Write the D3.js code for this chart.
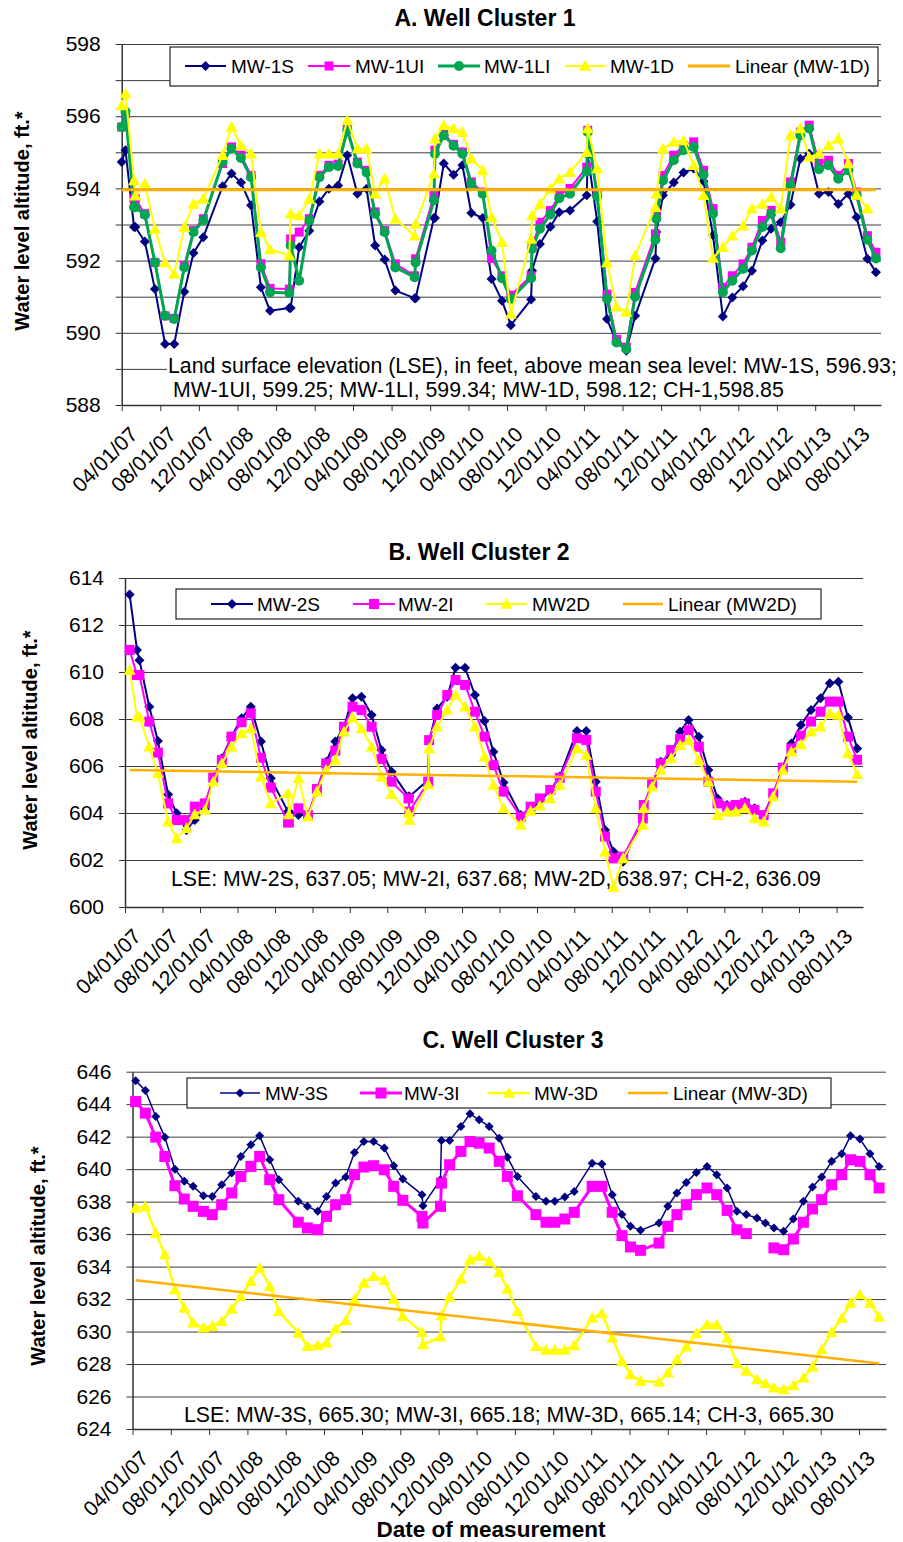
<!DOCTYPE html>
<html>
<head>
<meta charset="utf-8">
<script src="https://cdn.jsdelivr.net/npm/d3@7"></script>
<style>
  body { margin: 0; background: #fff; }
  text { font-family: "Liberation Sans", Arial, sans-serif; }
</style>
</head>
<body>
<svg id="chart" width="903" height="1542"></svg>
<script>
// ---- tick labels (shared by all three panels) ----
const tickLabels = ["04/01/07","08/01/07","12/01/07","04/01/08","08/01/08","12/01/08","04/01/09","08/01/09",
  "12/01/09","04/01/10","08/01/10","12/01/10","04/01/11","08/01/11","12/01/11","04/01/12","08/01/12",
  "12/01/12","04/01/13","08/01/13"];
const axisStart = "2007-04-01";
const axisEnd = "2013-10-26";

// ---- A. Well Cluster 1 ----
const datesA = [
  "2007-04-01","2007-04-13","2007-05-10","2007-05-14","2007-06-13","2007-07-15","2007-08-16","2007-09-14","2007-10-16","2007-11-14","2007-12-15",
  "2008-02-14","2008-03-13","2008-04-12","2008-05-14","2008-06-14","2008-07-13","2008-09-12","2008-09-16","2008-10-13","2008-11-14","2008-12-16",
  "2009-01-15","2009-02-13","2009-03-14","2009-04-15","2009-05-14","2009-06-10","2009-07-10","2009-08-13","2009-10-13","2009-10-16","2009-12-13","2009-12-16",
  "2010-01-13","2010-02-13","2010-03-13","2010-04-10","2010-05-16","2010-06-13","2010-07-16","2010-08-13","2010-10-16","2010-10-19","2010-11-13","2010-12-16",
  "2011-01-13","2011-02-16","2011-04-10","2011-04-13","2011-05-13","2011-06-13","2011-07-13","2011-08-13","2011-09-10","2011-11-13","2011-11-16","2011-12-07",
  "2012-01-10","2012-02-10","2012-03-13","2012-04-13","2012-05-13","2012-06-13","2012-07-13","2012-08-16","2012-09-13","2012-10-16","2012-11-13","2012-12-13",
  "2013-01-13","2013-02-13","2013-03-13","2013-04-13","2013-05-13","2013-06-13","2013-07-15","2013-08-10","2013-09-13","2013-10-10"];
const mw1s = [
  594.73,595.06,592.93,592.93,592.53,591.21,589.69,589.69,591.14,592.21,592.65,
  594.06,594.41,594.16,593.53,591.26,590.61,590.69,590.69,592.37,592.83,593.64,
  593.99,594.08,594.92,593.85,593.99,592.42,592.03,591.17,590.96,590.96,593.18,593.18,
  594.69,594.38,594.64,593.32,593.18,591.49,590.89,590.21,590.92,591.72,592.46,592.94,
  593.34,593.39,593.81,594.93,593.08,590.38,589.75,589.5,590.47,592.06,592.79,593.81,
  594.16,594.44,594.55,594.2,592.7,590.45,590.98,591.29,591.72,592.56,592.88,593.06,
  593.55,594.82,594.96,593.85,593.9,593.57,593.85,593.2,592.05,591.68];
const mw1ui = [
  595.7,596.07,593.71,593.71,593.3,591.95,590.47,590.4,591.86,592.83,593.16,
  594.69,595.15,594.92,594.36,591.91,591.23,591.21,592.6,592.79,593.16,594.36,
  594.64,594.67,595.66,594.73,594.5,593.35,592.83,591.91,591.58,592.05,593.81,595.06,
  595.52,595.22,595.01,594.18,593.9,592.06,591.58,591.04,591.58,592.37,593.06,593.39,
  593.81,594.0,594.59,595.61,593.85,591.07,589.82,589.6,591.12,592.74,593.3,594.36,
  594.92,595.19,595.29,594.5,593.44,591.26,591.58,591.91,592.37,593.11,593.39,592.51,
  594.18,595.56,595.75,594.69,594.78,594.36,594.69,593.9,592.69,592.23];
const mw1li = [
  595.7,596.12,593.48,593.48,593.27,591.95,590.47,590.38,591.81,592.79,593.11,
  594.73,595.1,594.84,594.31,591.81,591.12,591.1,592.42,591.44,593.11,594.31,
  594.59,594.62,595.61,594.69,594.44,593.3,592.79,591.81,591.54,591.95,593.67,594.96,
  595.47,595.18,594.96,594.13,593.85,592.28,591.51,590.94,591.51,592.32,592.88,593.28,
  593.73,593.85,594.47,595.56,593.78,590.94,589.73,589.55,591.0,592.58,593.16,594.22,
  594.78,595.06,595.15,594.38,593.3,591.12,591.44,591.77,592.28,592.93,593.3,592.34,
  594.08,595.47,595.66,594.53,594.64,594.27,594.5,593.81,592.58,592.06];
const mw1d = [
  596.3,596.63,594.22,593.8,594.13,592.88,591.95,591.63,592.93,593.57,593.71,
  594.92,595.7,595.19,594.96,592.79,592.31,592.14,593.3,593.25,593.71,594.96,
  594.96,594.96,595.89,595.1,595.1,593.85,594.27,593.16,592.69,593.02,594.41,595.38,
  595.75,595.66,595.56,594.82,594.5,593.2,592.51,590.52,592.6,593.25,593.57,593.99,
  594.27,594.45,595.0,595.66,594.55,591.95,590.72,590.58,592.14,593.48,593.85,595.1,
  595.29,595.33,594.64,593.81,592.07,592.37,592.69,592.97,593.44,593.57,593.76,593.44,
  595.47,595.66,594.87,594.96,595.19,595.38,594.69,593.82,593.44,null];
const trendA = [593.96, 593.96];
const lseA = ["Land surface elevation (LSE), in feet, above mean sea level: MW-1S, 596.93;",
  "MW-1UI, 599.25; MW-1LI, 599.34; MW-1D, 598.12; CH-1,598.85"];

// ---- B. Well Cluster 2 ----
const datesB = [
  "2007-04-16","2007-05-10","2007-05-18","2007-06-19","2007-07-17","2007-08-19","2007-09-16","2007-10-18","2007-11-14","2007-12-17",
  "2008-01-13","2008-02-10","2008-03-12","2008-04-14","2008-05-14","2008-06-16","2008-07-18","2008-09-12","2008-09-15","2008-10-16","2008-11-16","2008-12-15",
  "2009-01-14","2009-02-13","2009-03-13","2009-04-10","2009-05-09","2009-06-11","2009-07-13","2009-08-15","2009-10-09","2009-10-12","2009-12-12","2009-12-15",
  "2010-01-10","2010-02-12","2010-03-11","2010-04-11","2010-05-13","2010-06-13","2010-07-12","2010-08-14","2010-10-09","2010-11-10","2010-12-10",
  "2011-01-13","2011-02-13","2011-04-10","2011-05-10","2011-06-10","2011-07-10","2011-08-07","2011-09-07","2011-11-10","2011-11-13","2011-12-10",
  "2012-01-07","2012-02-10","2012-03-10","2012-04-07","2012-05-10","2012-06-10","2012-07-10","2012-08-10","2012-09-07","2012-10-07","2012-11-07","2012-12-07",
  "2013-01-07","2013-02-07","2013-03-07","2013-04-07","2013-05-10","2013-06-10","2013-07-10","2013-08-07","2013-09-07","2013-10-07"];
const mw2s = [
  613.3,610.94,610.5,608.52,607.06,604.79,603.99,603.28,603.7,604.17,
  605.5,606.33,607.25,608.03,608.52,607.04,605.48,604.06,604.06,603.91,603.91,604.91,
  606.18,607.04,607.67,608.88,608.95,608.17,606.68,605.76,604.7,604.7,605.4,607.04,
  608.45,608.95,610.18,610.18,609.02,607.91,606.61,605.3,603.91,604.13,604.48,
  604.98,605.55,607.49,607.49,605.33,603.28,602.35,601.93,603.77,604.34,605.19,
  606.18,606.47,607.46,607.96,607.25,605.83,604.62,604.34,604.34,604.48,604.2,603.91,
  604.79,605.93,606.96,607.74,608.38,608.88,609.52,609.59,608.06,606.75];
const mw2i = [
  610.94,609.87,609.87,607.89,606.57,604.41,603.7,603.7,604.27,604.41,
  605.5,606.26,607.25,607.86,608.24,606.35,605.08,603.6,603.6,604.2,603.91,605.02,
  606.11,606.65,607.67,608.52,608.38,607.67,606.3,605.33,604.62,604.06,605.33,607.1,
  608.17,609.02,609.66,609.45,608.31,607.25,606.04,604.91,603.84,604.27,604.62,
  604.98,605.5,607.18,607.11,604.91,603.0,602.07,602.14,603.77,604.34,605.26,
  606.11,606.68,607.15,607.53,606.82,605.33,604.41,604.27,604.34,604.41,604.13,603.91,
  604.84,605.93,606.75,607.29,607.89,608.31,608.74,608.74,607.25,606.26];
const mw2d = [
  610.09,608.1,608.1,606.82,605.69,603.63,602.92,603.35,603.94,604.13,
  605.33,606.11,606.82,607.39,607.6,605.55,604.41,604.84,603.94,605.48,603.84,604.91,
  605.83,606.26,607.46,608.06,607.6,606.82,605.55,604.8,603.99,603.7,605.22,606.75,
  607.67,608.38,609.02,608.52,607.67,606.4,605.19,604.2,603.49,604.09,604.31,
  604.62,605.19,606.75,606.47,604.2,602.35,600.85,602.07,603.49,604.2,605.12,
  605.83,606.33,606.89,607.1,606.26,605.33,603.91,604.06,604.06,604.2,603.77,603.63,
  604.7,605.83,606.61,606.92,607.46,607.67,608.24,608.17,606.54,605.65];
const trendB = [605.83, 605.33];
const lseB = ["LSE: MW-2S, 637.05; MW-2I, 637.68; MW-2D, 638.97; CH-2, 636.09"];

// ---- C. Well Cluster 3 ----
const datesC = [
  "2007-04-11","2007-05-12","2007-06-14","2007-07-13","2007-08-14","2007-09-13","2007-10-11","2007-11-13","2007-12-11",
  "2008-01-10","2008-02-11","2008-03-11","2008-04-12","2008-05-10","2008-06-11","2008-07-10","2008-09-10","2008-10-09","2008-11-11","2008-12-09",
  "2009-01-07","2009-02-08","2009-03-08","2009-04-07","2009-05-08","2009-06-11","2009-07-11","2009-08-09","2009-10-09","2009-10-12","2009-12-07","2009-12-10",
  "2010-01-05","2010-02-10","2010-03-11","2010-04-09","2010-05-11","2010-06-12","2010-07-08","2010-08-09","2010-10-07","2010-11-08","2010-12-06",
  "2011-01-07","2011-02-06","2011-04-04","2011-05-05","2011-06-07","2011-07-08","2011-08-04","2011-09-05","2011-11-03","2011-12-01","2011-12-30",
  "2012-01-29","2012-03-01","2012-04-04","2012-05-05","2012-06-07","2012-07-08","2012-08-07","2012-09-10","2012-10-07","2012-11-03","2012-12-04",
  "2013-01-04","2013-02-05","2013-03-06","2013-04-04","2013-05-06","2013-06-07","2013-07-05","2013-08-04","2013-09-05","2013-10-04"];
const mw3s = [
  645.45,644.84,643.24,641.97,640.0,639.25,638.94,638.36,638.32,
  639.04,639.76,640.78,641.5,642.05,640.58,639.35,638.02,637.71,637.4,638.32,
  639.14,639.51,641.03,641.7,641.7,641.3,640.21,639.39,638.43,637.75,639.35,641.77,
  641.77,642.63,643.41,643.04,642.63,641.91,640.74,639.55,638.32,638.02,638.02,
  638.28,638.63,640.37,640.31,638.43,637.2,636.48,636.23,636.68,637.71,638.53,
  639.18,639.8,640.17,639.66,638.84,637.4,637.2,636.99,636.68,636.38,636.17,
  636.93,638.02,638.9,639.51,640.48,640.95,642.05,641.85,640.95,640.17];
const mw3i = [
  644.16,643.45,641.97,640.78,638.98,638.16,637.71,637.4,637.2,
  637.81,638.53,639.55,640.17,640.78,639.35,638.12,636.73,636.38,636.27,637.09,
  637.81,638.12,639.66,640.13,640.21,639.96,638.94,638.08,637.09,636.68,637.71,639.14,
  640.27,641.09,641.7,641.6,641.3,640.48,639.55,638.36,637.2,636.73,636.73,
  636.93,637.34,638.94,638.94,637.34,635.91,635.21,635.0,635.45,636.48,637.2,
  637.81,638.43,638.84,638.43,637.46,636.27,636.03,null,null,635.15,635.04,
  635.7,636.73,637.55,638.12,639.04,639.66,640.58,640.48,639.66,638.84];
const mw3d = [
  637.61,637.71,636.07,634.74,632.59,631.46,630.54,630.23,630.33,
  630.64,631.4,632.18,633.1,633.92,632.79,631.25,629.92,629.1,629.14,629.31,
  630.17,630.68,631.97,633.0,633.41,633.16,632.01,630.95,629.96,629.2,629.68,630.99,
  632.14,633.24,634.43,634.64,634.33,633.65,632.63,631.25,629.1,628.86,628.86,
  628.86,629.14,630.84,631.11,629.61,628.18,627.36,626.95,626.89,627.46,628.28,
  629.06,629.88,630.43,630.43,629.61,628.04,627.57,627.05,626.81,626.54,626.44,
  626.68,627.16,627.83,628.9,629.96,630.84,631.76,632.28,631.76,630.9];
const trendC = [633.16, 628.04];
const lseC = ["LSE: MW-3S, 665.30; MW-3I, 665.18; MW-3D, 665.14; CH-3, 665.30"];

// ---- styles ----
const NAVY = "#000080", MAGENTA = "#FF00FF", GREEN = "#00A651", YELLOW = "#FFFF00", ORANGE = "#FFB000";
const GRID = "#3c3c3c";

const panels = [
  {
    title: "A. Well Cluster 1", titleX: 485, titleY: 18,
    x0: 121.7, x1: 881, y0: 44, y1: 405, yMin: 588, yMax: 598, gridStep: 1, labelStep: 2,
    yTitle: [22, 221],
    dates: datesA,
    series: [
      { name: "MW-1S", values: mw1s, color: NAVY, marker: "diamond", r: 5, width: 2 },
      { name: "MW-1UI", values: mw1ui, color: MAGENTA, marker: "square", r: 4.5, width: 2 },
      { name: "MW-1LI", values: mw1li, color: GREEN, marker: "circle", r: 5, width: 3 },
      { name: "MW-1D", values: mw1d, color: YELLOW, marker: "triangle", r: 6, width: 2 }
    ],
    trend: { name: "Linear (MW-1D)", values: trendA, width: 3 },
    legend: { box: [170, 47, 878, 86], cy: 66,
      items: [[185, 226, 231], [308, 350, 355], [438, 480, 484], [565, 605, 610], [688, 730, 735]] },
    lse: { lines: lseA, xs: [168, 173], ys: [373, 397], box: [167, 352, 902, 403] }
  },
  {
    title: "B. Well Cluster 2", titleX: 479, titleY: 552,
    x0: 125, x1: 863, y0: 578, y1: 907, yMin: 600, yMax: 614, gridStep: 2, labelStep: 2,
    yTitle: [30, 740],
    dates: datesB,
    series: [
      { name: "MW-2S", values: mw2s, color: NAVY, marker: "diamond", r: 5, width: 2 },
      { name: "MW-2I", values: mw2i, color: MAGENTA, marker: "square", r: 5, width: 2 },
      { name: "MW2D", values: mw2d, color: YELLOW, marker: "triangle", r: 6, width: 2 }
    ],
    trend: { name: "Linear (MW2D)", values: trendB, width: 2.5 },
    legend: { box: [176, 589, 821, 619], cy: 604,
      items: [[211, 253, 257], [353, 395, 398], [486, 527, 532], [623, 663, 668]] },
    lse: { lines: lseB, xs: [171], ys: [886], box: null }
  },
  {
    title: "C. Well Cluster 3", titleX: 513, titleY: 1040,
    x0: 132.5, x1: 886, y0: 1071.7, y1: 1429, yMin: 624, yMax: 646, gridStep: 2, labelStep: 2,
    yTitle: [38, 1256],
    dates: datesC,
    series: [
      { name: "MW-3S", values: mw3s, color: NAVY, marker: "diamond", r: 4.5, width: 1.5 },
      { name: "MW-3I", values: mw3i, color: MAGENTA, marker: "square", r: 5.5, width: 3 },
      { name: "MW-3D", values: mw3d, color: YELLOW, marker: "triangle", r: 6, width: 2.5 }
    ],
    trend: { name: "Linear (MW-3D)", values: trendC, width: 2.5 },
    legend: { box: [187, 1078, 831, 1108], cy: 1093,
      items: [[220, 260, 265], [360, 402, 404], [488, 530, 534], [628, 668, 673]] },
    lse: { lines: lseC, xs: [184], ys: [1422], box: null }
  }
];

const parseDay = d3.timeParse("%Y-%m-%d");
const parseTick = d3.timeParse("%m/%d/%y");
const tickDates = tickLabels.map(parseTick);
const svg = d3.select("#chart");
svg.append("rect").attr("width", 903).attr("height", 1542).attr("fill", "#fff");

function markerPath(type, r) {
  if (type === "diamond") return `M0,${-r}L${r},0L0,${r}L${-r},0Z`;
  if (type === "square") return `M${-r},${-r}H${r}V${r}H${-r}Z`;
  if (type === "triangle") return `M0,${-r}L${r},${r * 0.8}L${-r},${r * 0.8}Z`;
  return d3.symbol(d3.symbolCircle, Math.PI * r * r)();
}

function drawPanel(p) {
  const x = d3.scaleTime().domain([parseDay(axisStart), parseDay(axisEnd)]).range([p.x0, p.x1]);
  const y = d3.scaleLinear().domain([p.yMin, p.yMax]).range([p.y1, p.y0]);
  const g = svg.append("g");
  const yTicks = d3.range(p.yMin, p.yMax + p.gridStep / 2, p.gridStep);

  // gridlines
  g.append("g")
    .attr("transform", `translate(${p.x0},0)`)
    .call(d3.axisLeft(y).tickValues(yTicks).tickSize(-(p.x1 - p.x0)).tickFormat(""))
    .call(s => s.select(".domain").remove())
    .call(s => s.selectAll("line").attr("stroke", GRID).attr("stroke-width", 1));

  // LSE note (white box hides gridlines behind it)
  if (p.lse.box) {
    const b = p.lse.box;
    g.append("rect").attr("x", b[0]).attr("y", b[1]).attr("width", b[2] - b[0]).attr("height", b[3] - b[1]).attr("fill", "#fff");
  }
  p.lse.lines.forEach((t, i) => {
    g.append("text").attr("x", p.lse.xs[i]).attr("y", p.lse.ys[i])
      .attr("font-size", 21.3).attr("fill", "#000").text(t);
  });

  // y axis
  g.append("g")
    .attr("transform", `translate(${p.x0},0)`)
    .call(d3.axisLeft(y).tickValues(yTicks).tickSize(6).tickSizeOuter(0).tickPadding(15)
      .tickFormat(d => (Math.round(d) % p.labelStep === 0 ? d : "")))
    .call(s => s.select(".domain").attr("stroke", "#333").attr("stroke-width", 1.5))
    .call(s => s.selectAll("line").attr("stroke", "#333"))
    .call(s => s.selectAll("text").attr("font-size", 21).attr("fill", "#000")
      .attr("font-family", '"Liberation Sans", Arial, sans-serif'));

  // x axis
  g.append("g")
    .attr("transform", `translate(0,${p.y1})`)
    .call(d3.axisBottom(x).tickValues(tickDates).tickSize(6).tickSizeOuter(0)
      .tickFormat((d, i) => tickLabels[i]))
    .call(s => s.select(".domain").attr("stroke", "#333").attr("stroke-width", 1.5))
    .call(s => s.selectAll("line").attr("stroke", "#333"))
    .call(s => s.selectAll("text")
      .attr("font-size", 21).attr("fill", "#000")
      .attr("font-family", '"Liberation Sans", Arial, sans-serif')
      .attr("text-anchor", "end")
      .attr("x", 0).attr("y", 0).attr("dy", "0.72em")
      .attr("transform", "translate(6,20) rotate(-45)"));

  // title and y title
  g.append("text").attr("x", p.titleX).attr("y", p.titleY).attr("text-anchor", "middle")
    .attr("dominant-baseline", "central").attr("font-size", 23).attr("font-weight", "bold").text(p.title);
  g.append("text")
    .attr("transform", `translate(${p.yTitle[0]},${p.yTitle[1]}) rotate(-90)`)
    .attr("text-anchor", "middle").attr("dominant-baseline", "central")
    .attr("font-size", 20).attr("font-weight", "bold").text("Water level altitude, ft.*");

  // series
  p.series.forEach(s => {
    const pts = p.dates.map((d, i) => ({ d: parseDay(d), v: s.values[i] }));
    const line = d3.line().defined(q => q.v != null).x(q => x(q.d)).y(q => y(q.v));
    g.append("path").datum(pts).attr("d", line)
      .attr("fill", "none").attr("stroke", s.color).attr("stroke-width", s.width).attr("stroke-linejoin", "round");
    g.append("g").selectAll("path")
      .data(pts.filter(q => q.v != null))
      .join("path")
      .attr("d", markerPath(s.marker, s.r))
      .attr("transform", q => `translate(${x(q.d)},${y(q.v)})`)
      .attr("fill", s.color);
  });

  // linear trend
  const tpts = [
    { d: parseDay(p.dates[0]), v: p.trend.values[0] },
    { d: parseDay(p.dates[p.dates.length - 1]), v: p.trend.values[1] }
  ];
  g.append("path").datum(tpts)
    .attr("d", d3.line().x(q => x(q.d)).y(q => y(q.v)))
    .attr("fill", "none").attr("stroke", ORANGE).attr("stroke-width", p.trend.width);

  // legend
  const lb = p.legend.box;
  const lg = g.append("g");
  lg.append("rect").attr("x", lb[0]).attr("y", lb[1]).attr("width", lb[2] - lb[0]).attr("height", lb[3] - lb[1])
    .attr("fill", "#fff").attr("stroke", "#222").attr("stroke-width", 1.2);
  const entries = p.series.concat([{ name: p.trend.name, color: ORANGE, marker: null, width: p.trend.width }]);
  entries.forEach((e, i) => {
    const [a, b, tx] = p.legend.items[i];
    lg.append("line").attr("x1", a).attr("x2", b).attr("y1", p.legend.cy).attr("y2", p.legend.cy)
      .attr("stroke", e.color).attr("stroke-width", e.width);
    if (e.marker) {
      lg.append("path").attr("d", markerPath(e.marker, e.r))
        .attr("transform", `translate(${(a + b) / 2},${p.legend.cy})`).attr("fill", e.color);
    }
    lg.append("text").attr("x", tx).attr("y", p.legend.cy).attr("dominant-baseline", "central")
      .attr("font-size", 19).attr("fill", "#000").text(e.name);
  });
}

panels.forEach(drawPanel);

svg.append("text").attr("x", 491).attr("y", 1529).attr("text-anchor", "middle")
  .attr("dominant-baseline", "central").attr("font-size", 22.5).attr("font-weight", "bold")
  .text("Date of measurement");
</script>
</body>
</html>
